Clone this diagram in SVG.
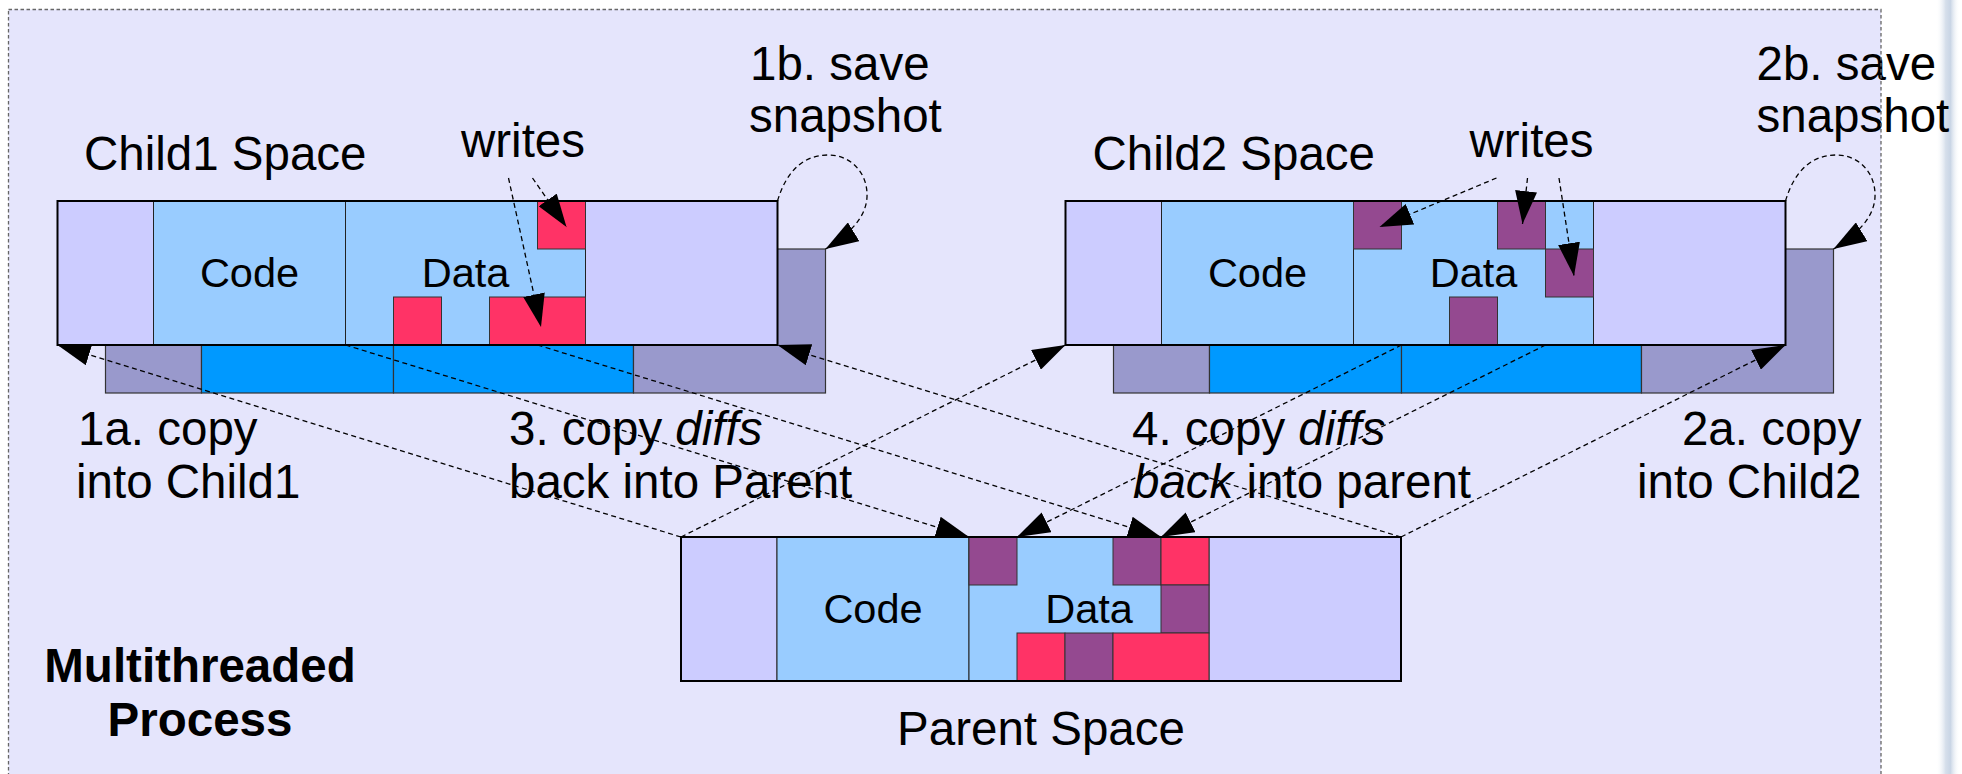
<svg xmlns="http://www.w3.org/2000/svg" width="1962" height="774" viewBox="0 0 1962 774">
<defs>
<style>
.t{font-family:"Liberation Sans",Arial,sans-serif;font-size:47.5px;fill:#000}
.b{font-weight:bold;text-anchor:middle}
.cd{font-family:"Liberation Sans",Arial,sans-serif;font-size:41.5px;fill:#000;text-anchor:middle}
.pad{fill:#ccccff;stroke:#222;stroke-width:1}
.mem{fill:#99ccff;stroke:#222;stroke-width:1}
.spad{fill:#9999cc;stroke:#333;stroke-width:1.2}
.smem{fill:#0099ff;stroke:#333;stroke-width:1.2}
.red{fill:#ff3366;stroke:#333;stroke-width:1}
.pur{fill:#944990;stroke:#333;stroke-width:1}
.frame{fill:none;stroke:#000;stroke-width:2}
.dash{fill:none;stroke:#000;stroke-width:1.3;stroke-dasharray:5 3.5;marker-end:url(#arr)}
</style>
<marker id="arr" markerUnits="userSpaceOnUse" markerWidth="33" markerHeight="22" viewBox="0 0 33 22" refX="33" refY="11" orient="auto">
<path d="M0,0 L33,11 L0,22 z" fill="#000"/>
</marker>
<linearGradient id="glow" x1="0" x2="1" y1="0" y2="0">
<stop offset="0" stop-color="#ffffff" stop-opacity="0"/>
<stop offset="0.4" stop-color="#d6dfeb"/>
<stop offset="0.6" stop-color="#c9d5e5"/>
<stop offset="1" stop-color="#ffffff" stop-opacity="0"/>
</linearGradient>
</defs>
<rect x="0" y="0" width="1962" height="774" fill="#ffffff"/>
<rect x="1936" y="0" width="24" height="774" fill="url(#glow)"/>
<rect id="process-bg" x="8.5" y="9.5" width="1872.5" height="800" fill="#e5e5fc"/>

<g id="child1">
<rect class="spad" x="105.5" y="249" width="96" height="144"/>
<rect class="smem" x="201.5" y="249" width="192" height="144"/>
<rect class="smem" x="393.5" y="249" width="240" height="144"/>
<rect class="spad" x="633.5" y="249" width="192" height="144"/>
<rect class="pad" x="57.5" y="201" width="96" height="144"/>
<rect class="mem" x="153.5" y="201" width="192" height="144"/>
<rect class="mem" x="345.5" y="201" width="240" height="144"/>
<rect class="pad" x="585.5" y="201" width="192" height="144"/>
<rect class="red" x="537.5" y="201" width="48" height="48"/>
<rect class="red" x="393.5" y="297" width="48" height="48"/>
<rect class="red" x="489.5" y="297" width="96" height="48"/>
<rect class="frame" x="57.5" y="201" width="720" height="144"/>
<text class="cd" x="249.5" y="287">Code</text>
<text class="cd" x="465.5" y="287">Data</text>
</g>

<g id="child2">
<rect class="spad" x="1113.5" y="249" width="96" height="144"/>
<rect class="smem" x="1209.5" y="249" width="192" height="144"/>
<rect class="smem" x="1401.5" y="249" width="240" height="144"/>
<rect class="spad" x="1641.5" y="249" width="192" height="144"/>
<rect class="pad" x="1065.5" y="201" width="96" height="144"/>
<rect class="mem" x="1161.5" y="201" width="192" height="144"/>
<rect class="mem" x="1353.5" y="201" width="240" height="144"/>
<rect class="pad" x="1593.5" y="201" width="192" height="144"/>
<rect class="pur" x="1353.5" y="201" width="48" height="48"/>
<rect class="pur" x="1497.5" y="201" width="48" height="48"/>
<rect class="pur" x="1545.5" y="249" width="48" height="48"/>
<rect class="pur" x="1449.5" y="297" width="48" height="48"/>
<rect class="frame" x="1065.5" y="201" width="720" height="144"/>
<text class="cd" x="1257.5" y="287">Code</text>
<text class="cd" x="1473.5" y="287">Data</text>
</g>

<g id="parent">
<rect class="pad" x="681" y="537" width="96" height="144"/>
<rect class="mem" x="777" y="537" width="192" height="144"/>
<rect class="mem" x="969" y="537" width="240" height="144"/>
<rect class="pad" x="1209" y="537" width="192" height="144"/>
<rect class="pur" x="969" y="537" width="48" height="48"/>
<rect class="pur" x="1113" y="537" width="48" height="48"/>
<rect class="red" x="1161" y="537" width="48" height="48"/>
<rect class="pur" x="1161" y="585" width="48" height="48"/>
<rect class="red" x="1017" y="633" width="48" height="48"/>
<rect class="pur" x="1065" y="633" width="48" height="48"/>
<rect class="red" x="1113" y="633" width="96" height="48"/>
<rect class="frame" x="681" y="537" width="720" height="144" stroke-width="1.5"/>
<text class="cd" x="873" y="623">Code</text>
<text class="cd" x="1089" y="623">Data</text>
</g>

<g id="connectors">
<line class="dash" x1="681" y1="537" x2="57.5" y2="345"/>
<line class="dash" x1="1401" y1="537" x2="777.5" y2="345"/>
<line class="dash" x1="681" y1="537" x2="1065.5" y2="345"/>
<line class="dash" x1="1401" y1="537" x2="1785.5" y2="345"/>
<line class="dash" x1="345.5" y1="345" x2="969" y2="537"/>
<line class="dash" x1="537.5" y1="345" x2="1161" y2="537"/>
<line class="dash" x1="1401.5" y1="345" x2="1017" y2="537"/>
<line class="dash" x1="1545.5" y1="345" x2="1161" y2="537"/>
<line class="dash" x1="508.5" y1="178" x2="541" y2="327"/>
<line class="dash" x1="532.5" y1="178" x2="566.5" y2="227"/>
<line class="dash" x1="1496.5" y1="178" x2="1379.5" y2="227"/>
<line class="dash" x1="1527.5" y1="178" x2="1522.5" y2="224"/>
<line class="dash" x1="1559" y1="178" x2="1574" y2="276"/>
<path class="dash" d="M777.5,201 C786,172 803,155 828,155 C851,155 868,173 867,197 C866,217 850,234 825.5,249"/>
<path class="dash" d="M1785.5,201 C1794,172 1811,155 1836,155 C1859,155 1876,173 1875,197 C1874,217 1858,234 1833.5,249"/>
</g>

<g id="labels">
<text class="t" x="84" y="170">Child1 Space</text>
<text class="t" x="461" y="157">writes</text>
<text class="t" x="750" y="80">1b. save</text>
<text class="t" x="749" y="132">snapshot</text>
<text class="t" x="1092.5" y="170">Child2 Space</text>
<text class="t" x="1469.5" y="157">writes</text>
<text class="t" x="1756.5" y="80">2b. save</text>
<text class="t" x="1756.5" y="132">snapshot</text>
<text class="t" x="78" y="445">1a. copy</text>
<text class="t" x="76" y="498">into Child1</text>
<text class="t" x="509" y="445">3. copy <tspan font-style="italic">diffs</tspan></text>
<text class="t" x="509" y="498">back into Parent</text>
<text class="t" x="1132" y="445">4. copy <tspan font-style="italic">diffs</tspan></text>
<text class="t" x="1133" y="498"><tspan font-style="italic">back</tspan> into parent</text>
<text class="t" x="1861.5" y="445" text-anchor="end">2a. copy</text>
<text class="t" x="1861.5" y="498" text-anchor="end">into Child2</text>
<text class="t b" x="200" y="682">Multithreaded</text>
<text class="t b" x="200" y="736">Process</text>
<text class="t" x="1041" y="745" text-anchor="middle">Parent Space</text>
</g>

<rect id="process-border" x="8.5" y="9.5" width="1872.5" height="800" fill="none" stroke="#666" stroke-width="1.3" stroke-dasharray="3.5 2.5"/>
</svg>
